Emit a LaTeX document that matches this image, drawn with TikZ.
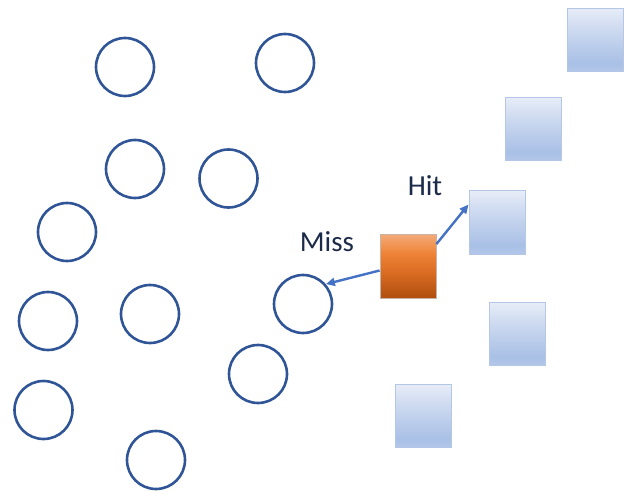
\documentclass[tikz,border=0pt]{standalone}
\usepackage{fontspec}
\setmainfont{Carlito}
\usetikzlibrary{arrows.meta}
\definecolor{ringblue}{HTML}{2F5597}
\definecolor{arrowblue}{HTML}{4472C4}
\definecolor{labelcol}{HTML}{1C2B4A}
\definecolor{sqedge}{HTML}{B4C7E7}
\definecolor{bA}{HTML}{B9CBEA}
\definecolor{bB}{HTML}{A9C0E6}
\definecolor{bC}{HTML}{D2DDF1}
\definecolor{bD}{HTML}{EFF3FA}
\definecolor{oA}{HTML}{AE4E10}
\definecolor{oB}{HTML}{D96C22}
\definecolor{oC}{HTML}{EE8236}
\definecolor{oD}{HTML}{F4AA78}
\definecolor{oedge}{HTML}{C9B3A6}
\pgfdeclareverticalshading{bluegrad}{100bp}{color(0bp)=(bA); color(20bp)=(bA); color(32bp)=(bB); color(62bp)=(bC); color(80bp)=(bD); color(100bp)=(bD)}
\pgfdeclareverticalshading{orangegrad}{100bp}{color(0bp)=(oA); color(25bp)=(oA); color(45bp)=(oB); color(60bp)=(oC); color(75bp)=(oD); color(100bp)=(oD)}
\tikzset{
  ring/.style={circle, draw=ringblue, line width=2.6pt, minimum size=58pt, inner sep=0pt},
  bluesq/.style={rectangle, draw=sqedge, line width=1pt, minimum width=56pt, minimum height=63pt, inner sep=0pt, shading=bluegrad},
  orangesq/.style={rectangle, draw=oedge, line width=0.8pt, minimum width=56pt, minimum height=64pt, inner sep=0pt, shading=orangegrad},
  ptr/.style={draw=arrowblue, line width=2.4pt, -{Triangle[length=9pt,width=8pt]}},
  lbl/.style={text=labelcol, font=\fontsize{29}{32}\selectfont, inner sep=0pt}
}
\begin{document}
\begin{tikzpicture}[x=1pt,y=-1pt]
\useasboundingbox (0,0) rectangle (627,492);
\node[ring] (c1) at (125,67) {};
\node[ring] (c2) at (285,63) {};
\node[ring] (c3) at (135,169) {};
\node[ring] (c4) at (228.5,178.5) {};
\node[ring] (c5) at (67,232) {};
\node[ring] (c6) at (48,321) {};
\node[ring] (c7) at (150,314) {};
\node[ring] (c8) at (303,304) {};
\node[ring] (c9) at (258,374) {};
\node[ring] (c10) at (43.5,410) {};
\node[ring] (c11) at (156,460) {};
\node[bluesq] (s1) at (595.5,40) {};
\node[bluesq] (s2) at (533.5,129) {};
\node[bluesq] (s3) at (497,222.5) {};
\node[bluesq] (s4) at (517,334) {};
\node[bluesq] (s5) at (423,416) {};
\node[orangesq] (o) at (408,266.5) {};
\draw[ptr] ([yshift=-4pt]o.west) -- (c8.41);
\draw[ptr] ([yshift=-10pt]o.north east) -- ([yshift=-14pt]s3.north west);
\node[lbl] (miss) at (327,242) {Miss};
\node[lbl] (hit) at (425,186) {Hit};
\end{tikzpicture}
\end{document}
